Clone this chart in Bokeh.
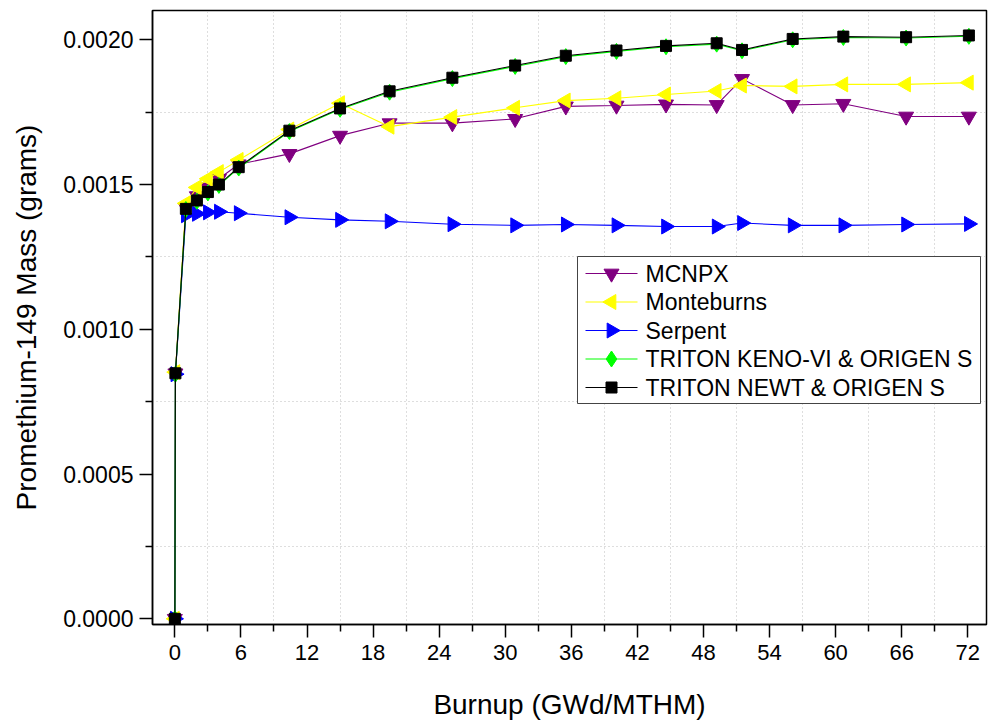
import math
from bokeh.plotting import figure
from bokeh.models import Range1d, FixedTicker, PrintfTickFormatter
from bokeh.core.properties import value
from bokeh.embed import file_html
from bokeh.resources import INLINE

# ---- data ----
burnup = [0, 0.05, 1, 2, 3, 4, 5.8, 10.4, 15, 19.5, 25.2, 30.9, 35.5, 40.1,
          44.6, 49.2, 51.5, 56.1, 60.7, 66.4, 72.1]

mcnpx = [0, 0.000848, 0.00142, 0.00146, 0.00149, 0.00152, 0.00157, 0.001606,
         0.001669, 0.001712, 0.001712, 0.001727, 0.00177, 0.001773, 0.001777,
         0.001775, 0.001865, 0.001775, 0.001779, 0.001735, 0.001735]

monteburns = [0, 0.000852, 0.001435, 0.00149, 0.00152, 0.001543, 0.001585, 0.00169,
              0.001781, 0.0017, 0.001733, 0.001765, 0.00179, 0.001798, 0.001811,
              0.001823, 0.001842, 0.001839, 0.001846, 0.001846, 0.001852]

serpent = [0, 0.000845, 0.001394, 0.001399, 0.001404, 0.001406, 0.001401, 0.001387,
           0.001378, 0.001373, 0.001363, 0.001359, 0.001362, 0.001359, 0.001355,
           0.001355, 0.001367, 0.001359, 0.001359, 0.001362, 0.001364]

keno = [0, 0.000845, 0.001414, 0.001442, 0.001471, 0.001497, 0.001557, 0.001683,
        0.00176, 0.001819, 0.001866, 0.001908, 0.001942, 0.00196, 0.001976,
        0.001985, 0.001962, 0.002, 0.002008, 0.002006, 0.002012]

newt = [0, 0.000848, 0.001416, 0.001445, 0.001474, 0.0015, 0.00156, 0.001686,
        0.001763, 0.001822, 0.001869, 0.001911, 0.001945, 0.001963, 0.001979,
        0.001988, 0.001965, 0.002003, 0.002011, 0.002009, 0.002015]

labels = ["MCNPX", "Monteburns", "Serpent", "TRITON KENO-VI & ORIGEN S", "TRITON NEWT & ORIGEN S"]
x_major = [0, 6, 12, 18, 24, 30, 36, 42, 48, 54, 60, 66, 72]
x_minor = [3, 9, 15, 21, 27, 33, 39, 45, 51, 57, 63, 69]
y_major = [0.0, 0.0005, 0.0010, 0.0015, 0.0020]
y_minor = [0.00025, 0.00075, 0.00125, 0.00175]

FONT = "Liberation Sans"

# layout
W, H = 988, 724
FL, FR, FT, FB = 152, 2, 10, 100          # borders around the frame
FW, FH = W - FL - FR, H - FT - FB
XR = (-2.03, 73.7)
YR = (-0.0000197, 0.0021012)

p = figure(width=W, height=H, x_range=Range1d(*XR), y_range=Range1d(*YR),
           output_backend="svg", toolbar_location=None,
           min_border_left=FL, min_border_right=FR, min_border_top=FT, min_border_bottom=FB)

p.background_fill_color = "white"
p.border_fill_color = "white"
p.outline_line_color = "black"
p.outline_line_width = 1.5

for ax in (p.xaxis[0], p.yaxis[0]):
    ax.axis_line_width = 1.5
    ax.axis_line_color = "black"
    ax.major_tick_line_width = 1.5
    ax.minor_tick_line_width = 1.5
    ax.major_tick_out = 13
    ax.major_tick_in = 0
    ax.minor_tick_out = 7
    ax.minor_tick_in = 0
    ax.major_label_text_font = FONT
    ax.major_label_text_color = "black"
    ax.axis_label_text_font = FONT
    ax.axis_label_text_font_size = "28px"
    ax.axis_label_text_font_style = "normal"
    ax.axis_label_text_color = "black"

p.xaxis[0].major_label_text_font_size = "22px"
p.yaxis[0].major_label_text_font_size = "23px"
p.xaxis[0].ticker = FixedTicker(ticks=x_major, minor_ticks=x_minor)
p.yaxis[0].ticker = FixedTicker(ticks=y_major, minor_ticks=y_minor)
p.yaxis[0].formatter = PrintfTickFormatter(format="%.4f")
p.xaxis[0].axis_label = "Burnup (GWd/MTHM)"
p.yaxis[0].axis_label = "Promethium-149 Mass (grams)"
p.xaxis[0].major_label_standoff = 7
p.yaxis[0].major_label_standoff = 6
p.xaxis[0].axis_label_standoff = 26
p.yaxis[0].axis_label_standoff = 18

p.xgrid.ticker = FixedTicker(ticks=x_minor)
p.ygrid.ticker = FixedTicker(ticks=y_minor)
for g in (p.xgrid[0], p.ygrid[0]):
    g.grid_line_color = "#bdbdbd"
    g.grid_line_dash = "1 3"
    g.grid_line_width = 1

styles = [
    ("#800080", "inverted_triangle", 15, 0.0),
    ("#FFFF00", "triangle", 15, math.pi / 2),
    ("#0000FF", "triangle", 15, -math.pi / 2),
    ("#00FF00", "diamond", 16, 0.0),
    ("#000000", "square", 11, 0.0),
]
all_series = [mcnpx, monteburns, serpent, keno, newt]

for ys, (color, marker, size, ang) in zip(all_series, styles):
    p.line(burnup, ys, line_color=color, line_width=1.1)
    p.scatter(burnup, ys, marker=marker, size=size, angle=ang,
              fill_color=color, line_color=color, line_width=1)


# ---- legend (built from glyphs so that the markers can be rotated) ----
def sx_to_x(sx):
    return XR[0] + (sx - FL) / FW * (XR[1] - XR[0])


def sy_to_y(sy):
    return YR[1] - (sy - FT) / FH * (YR[1] - YR[0])


LEG_L, LEG_R, LEG_T, LEG_B = 577, 980, 256, 403     # legend box, screen px
ROW0, ROW_PITCH = 273, 28.5
LINE_X0, LINE_X1, MARK_X, TEXT_X = 585, 637, 611, 645

p.quad(left=[sx_to_x(LEG_L)], right=[sx_to_x(LEG_R)], top=[sy_to_y(LEG_T)], bottom=[sy_to_y(LEG_B)],
       fill_color="white", line_color="#444444", line_width=1)

row_y = [sy_to_y(ROW0 + i * ROW_PITCH) for i in range(len(labels))]
for i, (color, marker, size, ang) in enumerate(styles):
    p.segment(x0=[sx_to_x(LINE_X0)], x1=[sx_to_x(LINE_X1)], y0=[row_y[i]], y1=[row_y[i]],
              line_color=color, line_width=1.1)
    p.scatter([sx_to_x(MARK_X)], [row_y[i]], marker=marker, size=size, angle=ang,
              fill_color=color, line_color=color, line_width=1)

p.text(x=[sx_to_x(TEXT_X)] * len(labels), y=row_y, text=labels,
       text_font=value(FONT), text_font_size="23px", text_color="black",
       text_baseline="middle", text_align="left")

open("out.html", "w").write(file_html(p, INLINE))
